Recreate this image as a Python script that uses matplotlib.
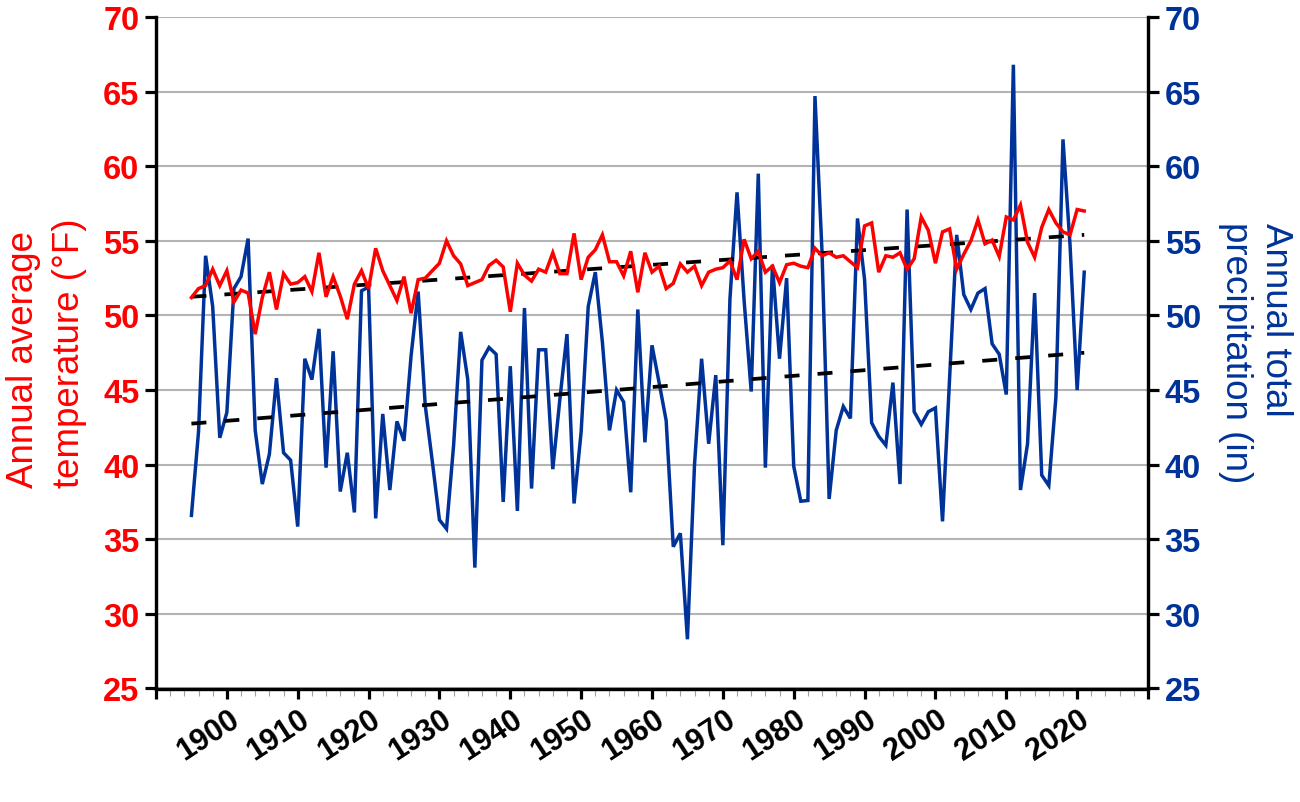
"""
Annual average temperature and annual total precipitation, 1895-2021,
with linear trend lines on both series.
"""

import numpy as np
import matplotlib
matplotlib.use("Agg")
import matplotlib.pyplot as plt
from matplotlib.ticker import MultipleLocator
from matplotlib.transforms import ScaledTranslation

plt.rcParams["font.family"] = ["Liberation Sans", "DejaVu Sans"]
plt.rcParams["lines.scale_dashes"] = False

FIRST_YEAR = 1895
LAST_YEAR = 2021

temperature = [
    51.2, 51.8, 52.0, 53.1, 52.0,
    53.0, 50.9, 51.7, 51.5, 48.75, 51.2, 52.9, 50.4, 52.8, 52.1,
    52.2, 52.6, 51.6, 54.2, 51.25, 52.6, 51.3, 49.75, 52.1, 53.0,
    51.8, 54.5, 53.0, 52.0, 51.0, 52.6, 50.15, 52.4, 52.5, 53.0,
    53.5, 55.0, 54.0, 53.45, 52.0, 52.2, 52.4, 53.35, 53.7, 53.25,
    50.25, 53.5, 52.7, 52.3, 53.1, 52.9, 54.2, 52.8, 52.8, 55.5,
    52.4, 53.9, 54.4, 55.4, 53.6, 53.6, 52.65, 54.3, 51.55, 54.2,
    52.9, 53.3, 51.8, 52.15, 53.45, 52.9, 53.3, 52.0, 52.9, 53.1,
    53.2, 53.65, 52.4, 55.1, 53.8, 54.3, 52.9, 53.3, 52.2, 53.4,
    53.5, 53.3, 53.2, 54.5, 54.0, 54.2, 53.9, 54.0, 53.6, 53.2,
    56.0, 56.2, 52.9, 54.0, 53.9, 54.2, 53.1, 53.8, 56.6, 55.7,
    53.5, 55.6, 55.8, 53.1, 54.1, 55.0, 56.4, 54.8, 55.05, 53.95,
    56.6, 56.4, 57.4, 54.9, 53.9, 55.9, 57.1, 56.2, 55.6, 55.4,
    57.1, 57.0,
]

precipitation = [
    36.6, 42.2, 54.0, 50.6, 41.8,
    43.5, 51.8, 52.6, 55.15, 42.3, 38.7, 40.7, 45.8, 40.8, 40.3,
    35.85, 47.1, 45.7, 49.1, 39.8, 47.6, 38.2, 40.8, 36.8, 51.65,
    51.9, 36.4, 43.4, 38.3, 42.9, 41.6, 47.3, 51.6, 43.95, 40.2,
    36.3, 35.7, 41.3, 48.9, 45.7, 33.1, 47.0, 47.85, 47.4, 37.5,
    46.6, 36.9, 50.5, 38.4, 47.7, 47.7, 39.7, 44.4, 48.75, 37.4,
    42.2, 50.6, 52.9, 48.2, 42.3, 45.0, 44.2, 38.15, 50.4, 41.5,
    48.0, 45.5, 42.95, 34.5, 35.4, 28.3, 40.0, 47.1, 41.4, 46.0,
    34.6, 51.1, 58.25, 51.0, 44.9, 59.5, 39.8, 53.4, 47.1, 52.5,
    39.9, 37.55, 37.6, 64.7, 54.2, 37.7, 42.3, 43.9, 43.1, 56.5,
    52.4, 42.8, 41.9, 41.3, 45.5, 38.7, 57.1, 43.55, 42.7, 43.55,
    43.8, 36.2, 45.8, 55.4, 51.4, 50.4, 51.5, 51.8, 48.1, 47.4,
    44.7, 66.8, 38.3, 41.4, 51.5, 39.3, 38.6, 44.5, 61.8, 54.7,
    45.0, 52.9,
]

trend_years = [FIRST_YEAR, LAST_YEAR]
temperature_trend = [51.25, 55.4]
precipitation_trend = [42.75, 47.5]

RED = "#ff0000"
BLUE = "#003399"
GRID = "#b4b4b4"
TICK_SIZE = 23.5
LABEL_SIZE = 26.5

years = np.arange(FIRST_YEAR, LAST_YEAR + 1)

fig = plt.figure(figsize=(13, 8.03), dpi=100)
ax = fig.add_axes([156 / 1300, 1 - 689.5 / 803, (1148 - 156) / 1300, (689.5 - 18) / 803])
ax2 = ax.twinx()

# temperature axes goes on top so the red line covers the blue one
ax.set_zorder(ax2.get_zorder() + 1)
ax.patch.set_visible(False)

ax2.plot(years, precipitation, color=BLUE, lw=2.5, solid_joinstyle="miter", zorder=3)
ax2.plot(trend_years, precipitation_trend, color="black", lw=2.7,
         dashes=(10.8, 13), dash_capstyle="butt", zorder=4)
ax.plot(trend_years, temperature_trend, color="black", lw=2.7,
        dashes=(10.8, 13), dash_capstyle="butt", zorder=3)
ax.plot(years, temperature, color=RED, lw=2.5, solid_joinstyle="miter", zorder=4)

for a in (ax, ax2):
    a.set_ylim(25, 70)
    a.set_xlim(1890, 2030)
    a.yaxis.set_major_locator(MultipleLocator(5))
    a.spines["top"].set_visible(False)
    for side in ("left", "right", "bottom"):
        a.spines[side].set_linewidth(2.3)

ax2.yaxis.grid(True, color=GRID, lw=1.5)
ax2.set_axisbelow(True)

ax.tick_params(axis="y", length=8, width=2.3, pad=4, labelsize=TICK_SIZE, labelcolor=RED)
ax2.tick_params(axis="y", length=8, width=2.3, pad=4, labelsize=TICK_SIZE, labelcolor=BLUE)
for lab in ax.get_yticklabels():
    lab.set_fontweight("bold")
for lab in ax2.get_yticklabels():
    lab.set_fontweight("bold")

ax.xaxis.set_minor_locator(MultipleLocator(2))
ax.tick_params(axis="x", which="major", length=7, width=2.3, pad=4)
ax.tick_params(axis="x", which="minor", length=5, width=0.8, color="#a0a0a0")

xticks = list(range(1890, 2031, 10))
ax.set_xticks(xticks)
ax.set_xticklabels(["" if (t == 1890 or t == 2030) else str(t) for t in xticks],
                   rotation=33, ha="center", fontsize=22, fontweight="bold")
shift = ScaledTranslation(-19 / 100, 0, fig.dpi_scale_trans)
for lab in ax.get_xticklabels():
    lab.set_transform(lab.get_transform() + shift)

# axis titles are placed line by line, both sides are aligned at the start of the text
fig.text(33 / 1300, 1 - 488 / 803, "Annual average", color=RED, fontsize=LABEL_SIZE,
         rotation=90, ha="left", va="baseline", rotation_mode="anchor")
fig.text(79 / 1300, 1 - 488 / 803, "temperature (°F)", color=RED, fontsize=LABEL_SIZE,
         rotation=90, ha="left", va="baseline", rotation_mode="anchor")
fig.text(1266 / 1300, 1 - 223 / 803, "Annual total", color=BLUE, fontsize=LABEL_SIZE,
         rotation=270, ha="left", va="baseline", rotation_mode="anchor")
fig.text(1226 / 1300, 1 - 222 / 803, "precipitation (in)", color=BLUE, fontsize=LABEL_SIZE,
         rotation=270, ha="left", va="baseline", rotation_mode="anchor")

fig.savefig("out.png", dpi=100)
